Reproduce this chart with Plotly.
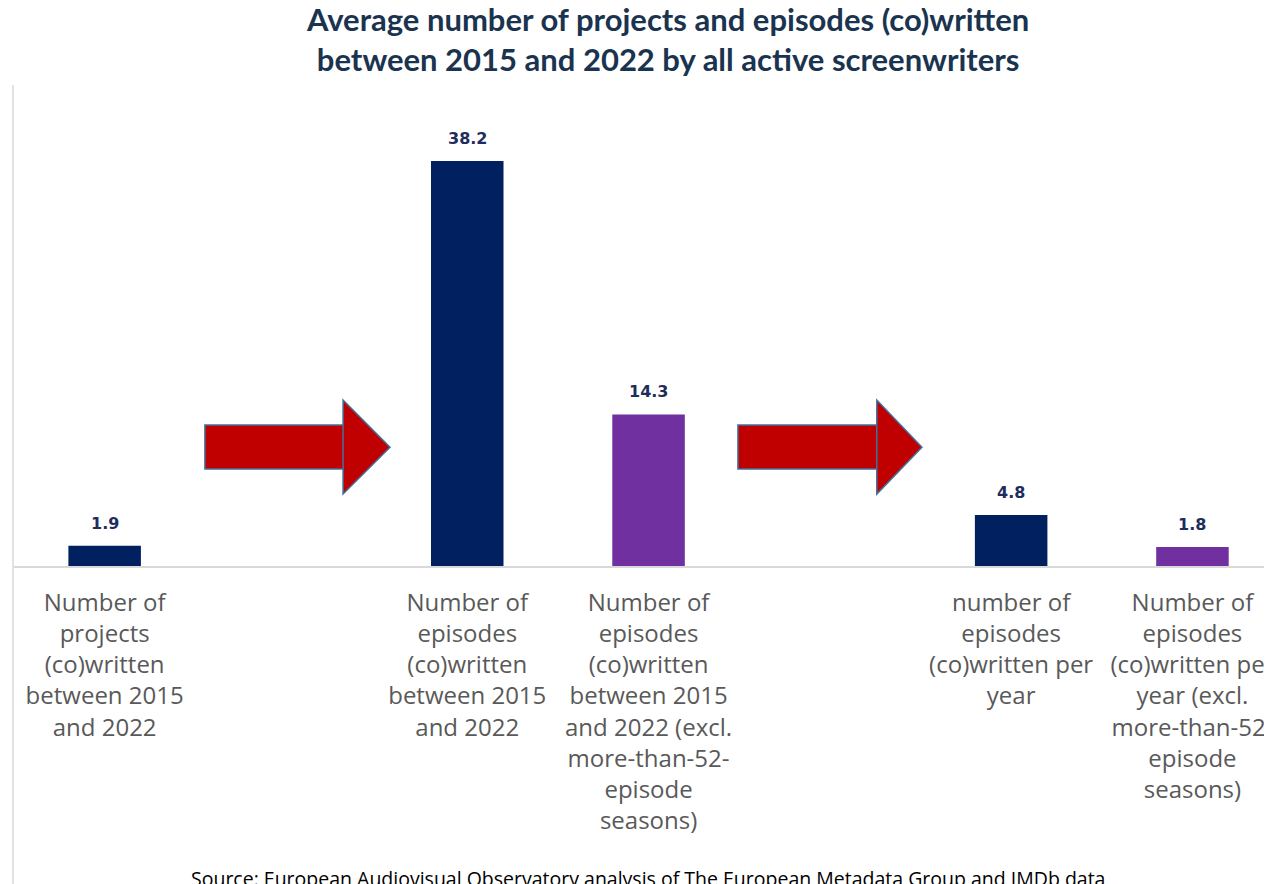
import plotly.graph_objects as go

# ---- data ----
categories = [
    "Number of<br>projects<br>(co)written<br>between 2015<br>and 2022",
    "Number of<br>episodes<br>(co)written<br>between 2015<br>and 2022",
    "Number of<br>episodes<br>(co)written<br>between 2015<br>and 2022 (excl.<br>more-than-52-<br>episode<br>seasons)",
    "number of<br>episodes<br>(co)written per<br>year",
    "Number of<br>episodes<br>(co)written per<br>year (excl.<br>more-than-52-<br>episode<br>seasons)",
]
values = [1.9, 38.2, 14.3, 4.8, 1.8]
value_labels = ["1.9", "38.2", "14.3", "4.8", "1.8"]
slots = [0, 2, 3, 5, 6]
bar_colors = ["#002060", "#002060", "#7030A0", "#002060", "#7030A0"]

title_text = ("Average number of projects and episodes (co)written<br>"
              "between 2015 and 2022 by all active screenwriters")
source_text = "Source: European Audiovisual Observatory analysis of The European Metadata Group and IMDb data"

W, H = 1264, 876
ML, MR, MT, MB = 6, 0, 92, 318
plot_w = W - ML - MR
plot_h = H - MT - MB
px_per_unit = 10.6
y_max = plot_h / px_per_unit
slot_px = 181.3
x_max = -0.5 + plot_w / slot_px

fig = go.Figure()
fig.add_trace(go.Bar(
    x=slots, y=values, width=0.40,
    marker=dict(color=bar_colors, line=dict(width=0)),
    hoverinfo="skip",
))

for xs, v, t in zip(slots, values, value_labels):
    fig.add_annotation(x=xs, y=v, text=t, showarrow=False, yanchor="bottom",
                       yshift=11, font=dict(family="DejaVu Sans", size=16, color="#1F2D5C", weight="bold"),
                       xref="x", yref="y")


def arrow_path(x0, xh, x1, ys0, ys1, yh0, yh1, ytip):
    return (f"M {x0},{ys0} L {xh},{ys0} L {xh},{yh0} L {x1},{ytip} "
            f"L {xh},{yh1} L {xh},{ys1} L {x0},{ys1} Z")


for (x0, xh, x1) in [(0.553, 1.315, 1.574), (3.493, 4.259, 4.508)]:
    fig.add_shape(type="path", xref="x", yref="y",
                  path=arrow_path(x0, xh, x1, 9.15, 13.3, 15.66, 6.79, 11.2),
                  fillcolor="#C00000", line=dict(color="#41719C", width=1.5), layer="above")

# left chart border
fig.add_shape(type="line", xref="paper", yref="paper", xsizemode="pixel", xanchor=0,
              x0=-1, x1=-1, y0=-(MB) / plot_h, y1=1 + 15 / plot_h,
              line=dict(color="#D9D9D9", width=1.5))

# title
fig.add_annotation(text=title_text, xref="paper", yref="paper",
                   x=(659 - ML) / plot_w, y=1 + (MT - 31) / plot_h,
                   xanchor="center", yanchor="middle", showarrow=False, align="center",
                   font=dict(family="Lato", size=31, color="#1A3450", weight="bold"))

fig.add_annotation(text=source_text, xref="paper", yref="paper",
                   x=(640 - ML) / plot_w, y=-(870 - (MT + plot_h)) / plot_h,
                   xanchor="center", yanchor="middle", showarrow=False,
                   font=dict(family="Open Sans", size=19.5, color="#000000"))

fig.update_layout(
    width=W, height=H,
    margin=dict(l=ML, r=MR, t=MT, b=MB, autoexpand=False),
    paper_bgcolor="white", plot_bgcolor="white",
    showlegend=False,
    xaxis=dict(range=[-0.5, x_max], tickvals=slots, ticktext=categories,
               showgrid=False, zeroline=False, showline=True, linecolor="#D9D9D9", linewidth=2,
               ticks="", tickangle=0, ticklabelstandoff=14, ticklabeloverflow="allow",
               tickfont=dict(family="Open Sans", size=24, color="#595959")),
    yaxis=dict(range=[0, y_max], visible=False, showgrid=False, zeroline=False),
)

fig.write_html("out.html")
